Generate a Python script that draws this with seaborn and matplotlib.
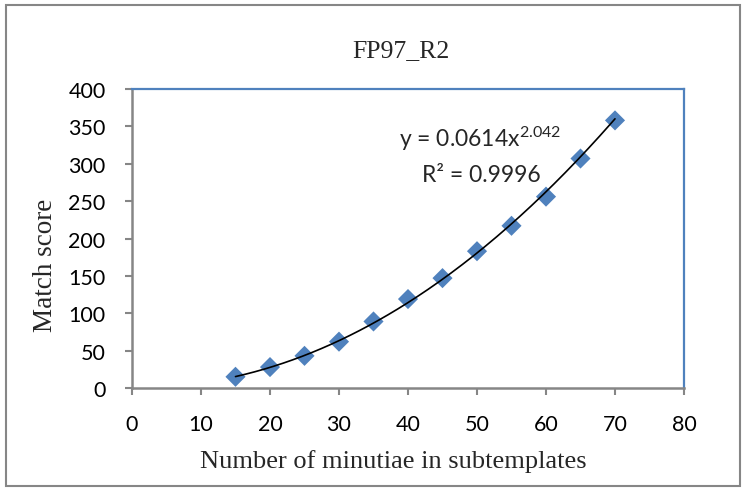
import numpy as np
import pandas as pd
import matplotlib
matplotlib.use("Agg")
import matplotlib.pyplot as plt
import seaborn as sns
from matplotlib.patches import Rectangle

# ---- data ----
minutiae = [15, 20, 25, 30, 35, 40, 45, 50, 55, 60, 65, 70]
match_score = [15, 28, 43, 62, 89, 119, 147, 183, 217, 256, 307, 358]
x_ticks = [0, 10, 20, 30, 40, 50, 60, 70, 80]
y_ticks = [0, 50, 100, 150, 200, 250, 300, 350, 400]
title = "FP97_R2"
x_label = "Number of minutiae in subtemplates"
y_label = "Match score"
eq_text = r"y = 0.0614x$^{2.042}$"
r2_text = "R² = 0.9996"

df = pd.DataFrame({"x": minutiae, "y": match_score})

# power trendline fitted from the data (log-log least squares)
b, log_a = np.polyfit(np.log(df["x"]), np.log(df["y"]), 1)
xf = np.linspace(min(minutiae), max(minutiae), 200)
fit = pd.DataFrame({"x": xf, "y": np.exp(log_a) * xf ** b})

sns.set_style("white")
plt.rcParams["font.family"] = ["Lato", "DejaVu Sans"]
plt.rcParams["mathtext.fontset"] = "custom"
plt.rcParams["mathtext.rm"] = "Lato"
plt.rcParams["mathtext.it"] = "Lato"
plt.rcParams["mathtext.default"] = "regular"

W, H = 743, 489
fig = plt.figure(figsize=(W / 100, H / 100), dpi=100)
ax = fig.add_axes([132 / W, 1 - 389 / H, (684 - 132) / W, (389 - 90) / H])

blue = "#4F81BD"
gray = "#868686"

sns.lineplot(data=fit, x="x", y="y", ax=ax, color="black", lw=1.2, zorder=3)
sns.scatterplot(data=df, x="x", y="y", ax=ax, marker="D", s=105,
                color=blue, edgecolor="none", linewidth=0, zorder=2)

ax.set_xlim(0, 80)
ax.set_ylim(0, 400)
ax.set_xticks(x_ticks)
ax.set_yticks(y_ticks)
ax.set_xlabel("")
ax.set_ylabel("")
ax.tick_params(axis="both", which="both", direction="out", length=5,
               width=1.5, color=gray, labelsize=15.5, labelcolor="black")
ax.tick_params(axis="y", pad=14)
ax.tick_params(axis="x", pad=14)
ax.tick_params(left=True, bottom=True)

for side in ["left", "bottom"]:
    ax.spines[side].set_color(gray)
    ax.spines[side].set_linewidth(1.8)
for side in ["top", "right"]:
    ax.spines[side].set_color(blue)
    ax.spines[side].set_linewidth(1.6)
    ax.spines[side].set_visible(True)

serif = ["Liberation Serif", "DejaVu Serif"]
fig.text(401 / W, 1 - 57 / H, title, ha="center", va="baseline",
         fontsize=18.5, family=serif)
fig.text(393 / W, 1 - 468 / H, x_label, ha="center", va="baseline",
         fontsize=19, family=serif)
fig.text(45 / W, 1 - 265 / H, y_label, ha="center", va="center",
         rotation=90, fontsize=19.5, family=serif)

fig.text(480 / W, 1 - 147 / H, eq_text, ha="center", va="baseline", fontsize=16.5)
fig.text(481 / W, 1 - 182 / H, r2_text, ha="center", va="baseline", fontsize=16.5)

fig.patches.append(Rectangle((6 / W, 1 - 487 / H), (740 - 6) / W, (487 - 6) / H,
                             transform=fig.transFigure, fill=False,
                             edgecolor=gray, linewidth=1.5))

fig.savefig("out.png", dpi=100)
